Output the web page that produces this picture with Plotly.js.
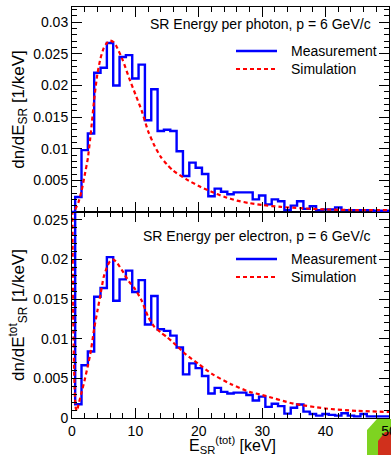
<!DOCTYPE html>
<html><head><meta charset="utf-8">
<script src="https://cdn.plot.ly/plotly-3.0.1.min.js"></script>
<style>html,body{margin:0;padding:0;background:#fff;overflow:hidden}#chart{width:391px;height:455px}</style>
</head><body><div id="chart"></div>
<script>
// ---- data ----
const binCenters = [0,1,2,3,4,5,6,7,8,9,10,11,12,13,14,15,16,17,18,19,20,21,22,23,24,25,26,27,28,29,30,31,32,33,34,35,36,37,38,39,40,41,42,43,44,45,46,47,48,49,50];
const photonMeasured = [0,0.00237,0.00978,0.0124,0.0220,0.0228,0.0267,0.0200,0.0245,0.0248,0.0211,0.0233,0.0145,0.0194,0.0128,0.0130,0.0128,0.0096,0.0057,0.0078,0.0070,0.0060,0.0025,0.0037,0.0032,0.0028,0.0031,0.0031,0.0031,0.0020,0.0026,0.0012,0.0020,0.0017,0.0003,0.0010,0.0017,0.0005,0.0009,0.0003,0.0004,0.0004,0.0007,0.0003,0.0003,0.0003,0.0003,0.0003,0.0002,0.0002,0.0002];
const photonSimE = [0.5,1,1.5,2,2.5,3,3.5,4,4.5,5,5.5,6,6.5,7,8,9,10,11,12,13,14,15,16,18,20,22,24,26,28,30,33,36,40,45,50];
const photonSim = [0.0004,0.0015,0.0033,0.0058,0.0085,0.0128,0.0178,0.0218,0.0243,0.0259,0.0267,0.0271,0.0269,0.0262,0.0240,0.0212,0.0186,0.0160,0.0128,0.0105,0.0087,0.0075,0.0065,0.0052,0.0041,0.0032,0.0024,0.0018,0.0014,0.0011,0.0008,0.0006,0.0004,0.0003,0.0003];
const electronMeasured = [0.06,0.00173,0.00665,0.0084,0.0153,0.0164,0.0203,0.0148,0.0175,0.0186,0.0159,0.0174,0.0118,0.0154,0.0112,0.0110,0.0104,0.0089,0.0055,0.0069,0.0063,0.0053,0.0031,0.0038,0.0033,0.0031,0.0032,0.0032,0.0029,0.0022,0.0027,0.0014,0.0018,0.0015,0.00055,0.0013,0.0017,0.0008,0.0005,0.0003,0.0005,0.0004,0.0003,0.0006,0.0003,0.0002,0.0005,0.0002,0.0002,0.0002,0.0002];
const electronSimE = [0,0.2,0.4,0.6,0.8,1,1.5,2,2.5,3,3.5,4,4.5,5,5.5,6,6.5,7,8,9,10,11,12,13,14,15,16,18,20,22,25,28,30,35,40,45,50];
const electronSim = [0.035,0.012,0.004,0.0012,0.0009,0.0016,0.0032,0.0048,0.0066,0.0086,0.0113,0.0135,0.0156,0.0178,0.0190,0.0198,0.0200,0.0197,0.0185,0.0172,0.0162,0.0148,0.0128,0.0115,0.0108,0.0102,0.0095,0.0080,0.0068,0.0056,0.0043,0.0033,0.0029,0.0018,0.0012,0.0009,0.00076];
const photonTicks = [0.005,0.01,0.015,0.02,0.025,0.03];
const photonTickText = ["0.005","0.01","0.015","0.02","0.025","0.03"];
const electronTicks = [0,0.005,0.01,0.015,0.02,0.025];
const electronTickText = ["0","0.005","0.01","0.015","0.02","0.025"];
const xTicks = [0,10,20,30,40,50];
const xTickText = ["0","10","20","30","40","50"];
const seriesNames = ["Measurement","Simulation"];
const panelTitles = ["SR Energy per photon, p = 6 GeV/c","SR Energy per electron, p = 6 GeV/c"];
const xTitle = 'E<sub>SR</sub><sup>(tot)</sup> [keV]';

// ---- helpers ----
function steps(centers, vals){
  const x = centers.map(c => c - 0.5); x.push(centers[centers.length-1] + 0.5);
  const y = vals.slice(); y.push(vals[vals.length-1]);
  return {x, y};
}
const L=72, R=389, T=7, B=418, SPLIT=212;
const pxX = p => (p - L)/(R - L);
const pxY = p => (B - p)/(B - T);
const split = pxY(SPLIT);

const FONT = "Liberation Sans, Arial, Helvetica, sans-serif";
const BLUE = "#0000ff", RED = "#ff0000";
const measLine = {color: BLUE, width: 2.4, shape: 'hv'};
const simLine = {color: RED, width: 2.2, dash: '4px,3px', shape: 'spline', smoothing: 0.6};

const ph = steps(binCenters, photonMeasured);
const el = steps(binCenters, electronMeasured);

const traces = [
  {x: ph.x, y: ph.y, xaxis:'x2', yaxis:'y2', mode:'lines', line: measLine, name: seriesNames[0], showlegend:false},
  {x: photonSimE, y: photonSim, xaxis:'x2', yaxis:'y2', mode:'lines', line: simLine, name: seriesNames[1], showlegend:false},
  {x: el.x, y: el.y, xaxis:'x', yaxis:'y', mode:'lines', line: measLine, name: seriesNames[0], showlegend:false},
  {x: electronSimE, y: electronSim, xaxis:'x', yaxis:'y', mode:'lines', line: simLine, name: seriesNames[1], showlegend:false}
];

const axBase = {
  showline:true, linecolor:'black', linewidth:1, mirror:'allticks',
  ticks:'inside', ticklen:10, tickwidth:1, tickcolor:'black',
  showgrid:false, zeroline:false, tickmode:'array',
  tickfont:{family:FONT, size:14, color:'black'}
};

const layout = {
  width:391, height:455,
  margin:{l:L, r:391-R, t:T, b:455-B, pad:0},
  paper_bgcolor:'white', plot_bgcolor:'white',
  font:{family:FONT, color:'black'},
  showlegend:false,
  xaxis: Object.assign({}, axBase, {
    domain:[0,1], range:[0,50], anchor:'y',
    tickvals:xTicks, ticktext:xTickText, ticklabeloverflow:'allow',
    minor:{dtick:2, tick0:0, ticks:'inside', ticklen:5, tickcolor:'black', showgrid:false}
  }),
  xaxis2: Object.assign({}, axBase, {
    domain:[0,1], range:[0,50], anchor:'y2', matches:'x',
    tickvals:xTicks, showticklabels:false,
    minor:{dtick:2, tick0:0, ticks:'inside', ticklen:5, tickcolor:'black', showgrid:false}
  }),
  yaxis: Object.assign({}, axBase, {
    domain:[0, split], range:[0,0.026], anchor:'x',
    tickvals:electronTicks, ticktext:electronTickText,
    minor:{dtick:0.001, tick0:0, ticks:'inside', ticklen:5, tickcolor:'black', showgrid:false},
    title:{text:'dn/dE<sup>tot</sup><sub>SR</sub> [1/keV]', font:{family:FONT, size:17}, standoff:4}
  }),
  yaxis2: Object.assign({}, axBase, {
    domain:[split, 1], range:[0,0.0324], anchor:'x2',
    tickvals:photonTicks, ticktext:photonTickText,
    minor:{dtick:0.001, tick0:0, ticks:'inside', ticklen:5, tickcolor:'black', showgrid:false},
    title:{text:'dn/dE<sub>SR</sub> [1/keV]', font:{family:FONT, size:17}, standoff:4}
  }),
  annotations: [],
  shapes: []
};

// x-axis title placed below the tick labels
layout.annotations.push({xref:'paper', yref:'paper', x:pxX(232), y:pxY(457), xanchor:'center', yanchor:'bottom',
  borderpad:0, text: xTitle, showarrow:false, font:{family:FONT, size:16, color:'black'}});

// panel titles + legends
const panels = [
  {titleY: 24, measY: 51, simY: 69},
  {titleY: 236, measY: 259, simY: 277}
];
panels.forEach((p, i) => {
  layout.annotations.push({xref:'paper', yref:'paper', x:pxX(373), y:pxY(p.titleY), xanchor:'right', yanchor:'middle',
    text: panelTitles[i], showarrow:false, font:{family:FONT, size:14, color:'black'}});
  layout.annotations.push({xref:'paper', yref:'paper', x:pxX(289), y:pxY(p.measY), xanchor:'left', yanchor:'middle',
    text: seriesNames[0], showarrow:false, font:{family:FONT, size:14, color:'black'}});
  layout.annotations.push({xref:'paper', yref:'paper', x:pxX(289), y:pxY(p.simY), xanchor:'left', yanchor:'middle',
    text: seriesNames[1], showarrow:false, font:{family:FONT, size:14, color:'black'}});
  layout.shapes.push({type:'line', xref:'paper', yref:'paper', x0:pxX(236), x1:pxX(277), y0:pxY(p.measY), y1:pxY(p.measY),
    line:{color:BLUE, width:2.4}});
  layout.shapes.push({type:'line', xref:'paper', yref:'paper', x0:pxX(236), x1:pxX(277), y0:pxY(p.simY), y1:pxY(p.simY),
    line:{color:RED, width:2.2, dash:'4px,3px'}});
});

// corner decoration visible in the reference (bottom-right), drawn under the tick labels
function pathPx(pts){ return 'M' + pts.map(q => pxX(q[0]).toFixed(4)+','+pxY(q[1]).toFixed(4)).join('L') + 'Z'; }
layout.shapes.push({type:'path', xref:'paper', yref:'paper', layer:'below',
  path: pathPx([[367,430],[377,419],[392,419],[392,456],[367,456]]), fillcolor:'#7ed321', line:{width:0}});
layout.shapes.push({type:'path', xref:'paper', yref:'paper', layer:'below',
  path: pathPx([[378,441],[385,432],[392,432],[392,456],[378,456]]), fillcolor:'#d0301c', line:{width:0}});

Plotly.newPlot('chart', traces, layout, {staticPlot:true, displayModeBar:false});
</script>
</body></html>
